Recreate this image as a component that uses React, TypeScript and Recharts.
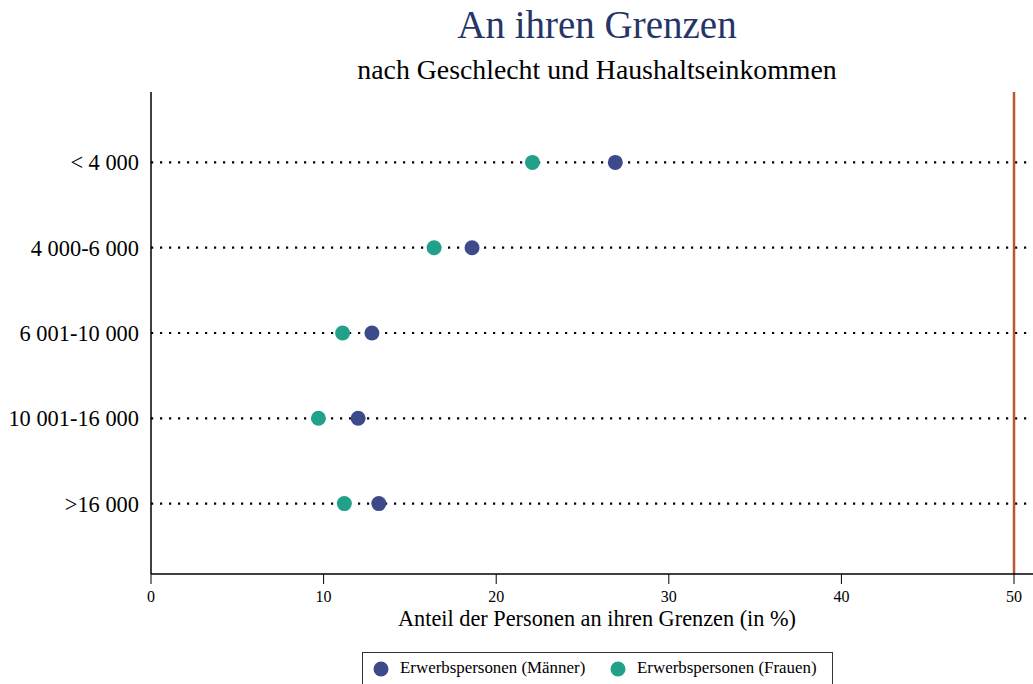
import React from 'react';
import { ScatterChart, Scatter, XAxis, YAxis, ReferenceLine } from 'recharts';

const categories = ['< 4 000', '4 000-6 000', '6 001-10 000', '10 001-16 000', '>16 000'];
const maenner = [26.9, 18.6, 12.8, 12.0, 13.2];
const frauen = [22.1, 16.4, 11.1, 9.7, 11.2];
const xTicks = [0, 10, 20, 30, 40, 50];
const threshold = 50;
const seriesNames = ['Erwerbspersonen (Männer)', 'Erwerbspersonen (Frauen)'];
const title = 'An ihren Grenzen';
const subtitle = 'nach Geschlecht und Haushaltseinkommen';
const xLabel = 'Anteil der Personen an ihren Grenzen (in %)';

const MALE = '#3d4a8a';
const FEMALE = '#21a08a';
const FONT = '"Liberation Serif", "Times New Roman", serif';

const maleData = categories.map((c, i) => ({ x: maenner[i], y: i, cat: c }));
const femaleData = categories.map((c, i) => ({ x: frauen[i], y: i, cat: c }));
const rowIdx = categories.map((_, i) => i);

const Dot = (props: any) => {
  const { cx, cy, fill } = props;
  if (cx == null || cy == null) return null;
  return <circle cx={cx} cy={cy} r={7.5} fill={fill} />;
};

export default function App() {
  return (
    <div style={{ position: 'absolute', left: 0, top: 0, width: 1033, height: 684, fontFamily: FONT, background: '#fff', overflow: 'hidden' }}>
      <div style={{ position: 'absolute', left: 397, width: 400, top: 2, textAlign: 'center', fontSize: 39, color: '#263566', lineHeight: '46px' }}>{title}</div>
      <div style={{ position: 'absolute', left: 297, width: 600, top: 53, textAlign: 'center', fontSize: 27.8, color: '#000', lineHeight: '34px' }}>{subtitle}</div>
      <ScatterChart width={1033} height={684} margin={{ top: 92, right: 0, bottom: 80, left: 0 }} style={{ fontFamily: FONT }}>
        <XAxis
          type="number"
          dataKey="x"
          domain={[0, 51.1]}
          ticks={xTicks}
          allowDataOverflow
          height={30}
          axisLine={{ stroke: '#000', strokeWidth: 1.5 }}
          tickLine={{ stroke: '#000' }}
          tickSize={10}
          tickMargin={7}
          tick={{ fill: '#000', fontSize: 16, fontFamily: FONT }}
        />
        <YAxis
          type="number"
          dataKey="y"
          domain={[-0.825, 4.825]}
          reversed
          ticks={rowIdx}
          tickFormatter={(v: number) => categories[v] ?? ''}
          width={151}
          axisLine={{ stroke: '#000', strokeWidth: 1.5 }}
          tickLine={false}
          tickSize={6}
          tickMargin={6}
          tick={{ fill: '#000', fontSize: 22.4, fontFamily: FONT }}
          allowDataOverflow
        />
        {rowIdx.map((i) => (
          <ReferenceLine key={i} y={i} stroke="#000" strokeWidth={2.2} strokeDasharray="2.2 6.8" />
        ))}
        <ReferenceLine x={threshold} stroke="#b35a33" strokeWidth={2.5} />
        <Scatter name={seriesNames[0]} data={maleData} fill={MALE} shape={<Dot />} isAnimationActive={false} />
        <Scatter name={seriesNames[1]} data={femaleData} fill={FEMALE} shape={<Dot />} isAnimationActive={false} />
      </ScatterChart>
      <div style={{ position: 'absolute', left: 347, width: 500, top: 605, textAlign: 'center', fontSize: 22.3, color: '#000', lineHeight: '28px' }}>{xLabel}</div>
      <div style={{ position: 'absolute', left: 362, top: 652, width: 471, height: 40, border: '1px solid #333', boxSizing: 'border-box', fontSize: 16.9, color: '#000' }}>
        <svg width={16} height={16} style={{ position: 'absolute', left: 10, top: 8 }}><circle cx={8} cy={8} r={7.5} fill={MALE} /></svg>
        <span style={{ position: 'absolute', left: 37, top: 5, lineHeight: '20px', whiteSpace: 'nowrap' }}>{seriesNames[0]}</span>
        <svg width={16} height={16} style={{ position: 'absolute', left: 247, top: 8 }}><circle cx={8} cy={8} r={7.5} fill={FEMALE} /></svg>
        <span style={{ position: 'absolute', left: 274, top: 5, lineHeight: '20px', whiteSpace: 'nowrap' }}>{seriesNames[1]}</span>
      </div>
    </div>
  );
}
